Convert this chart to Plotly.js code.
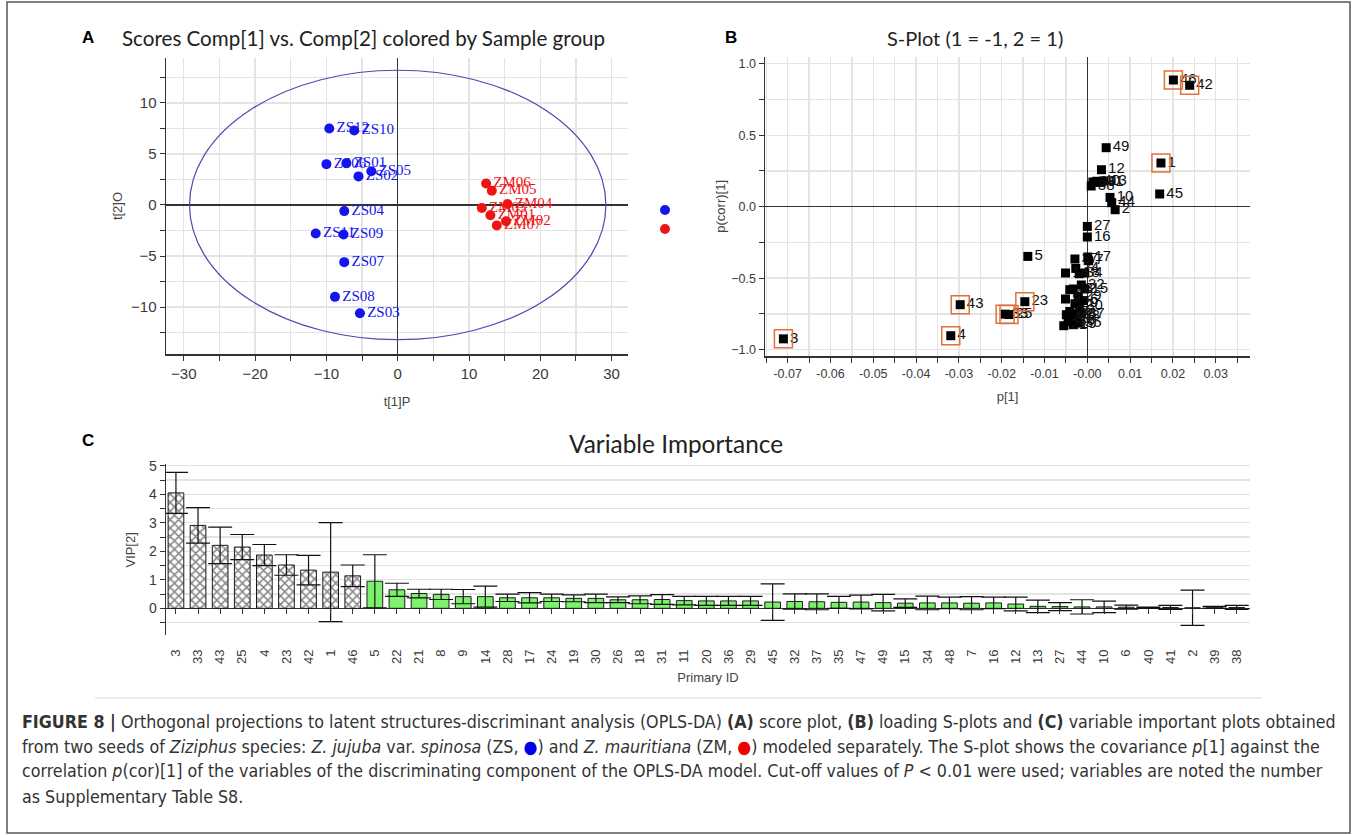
<!DOCTYPE html>
<html>
<head>
<meta charset="utf-8">
<script src="https://cdn.plot.ly/plotly-3.0.1.min.js"></script>
<style>
  html, body { margin: 0; padding: 0; background: #fff; }
  #fig { width: 1357px; height: 835px; }
</style>
</head>
<body>
<div id="fig"></div>
<script>
// ---------- Panel A: OPLS-DA scores, t[1]P vs t[2]O ----------
const zsIds = ['ZS01', 'ZS02', 'ZS03', 'ZS04', 'ZS05', 'ZS06', 'ZS07', 'ZS08', 'ZS09', 'ZS10', 'ZS11', 'ZS12'];
const zsT1P = [-7.2, -5.5, -5.3, -7.5, -3.7, -10.0, -7.5, -8.8, -7.6, -6.1, -11.5, -9.6];
const zsT2O = [4.1, 2.8, -10.6, -0.6, 3.3, 4.0, -5.6, -9.0, -2.9, 7.3, -2.8, 7.5];

const zmIds = ['ZM01', 'ZM02', 'ZM03', 'ZM04', 'ZM05', 'ZM06', 'ZM07'];
const zmT1P = [13.0, 15.2, 11.8, 15.4, 13.2, 12.4, 13.9];
const zmT2O = [-1.0, -1.6, -0.3, 0.1, 1.4, 2.1, -2.0];

// Hotelling's T2 ellipse semi-axes
const ellipseT1 = 29.2;
const ellipseT2 = 13.2;

// ---------- Panel B: S-plot, p[1] vs p(corr)[1] ----------
const sVarIds = [1, 2, 3, 4, 5, 6, 7, 8, 9, 10, 11, 12, 13, 14, 15, 16, 17, 18, 19, 20, 21, 22, 23, 24, 25,
                 26, 27, 28, 29, 30, 31, 32, 33, 34, 35, 36, 37, 38, 39, 40, 41, 42, 43, 44, 45, 46, 47, 48, 49];
const sP1 = [0.0172, 0.0065, -0.0710, -0.0319, -0.0139, -0.0009, 0.0003, -0.0006, -0.0051, 0.0053,
             -0.0049, 0.0033, 0.0038, -0.0051, -0.0006, 0.0000, 0.0001, -0.0033, -0.0033, -0.0029,
             -0.0055, -0.0033, -0.0146, -0.0027, -0.0183, -0.0041, 0.0000, -0.0041, -0.0021, -0.0018,
             -0.0045, -0.0014, -0.0192, -0.0019, -0.0021, -0.0037, -0.0029, 0.0009, 0.0013, 0.0022,
             0.0030, 0.0239, -0.0297, 0.0057, 0.0169, 0.0201, -0.0014, -0.0025, 0.0044];
const sPcorr = [0.306, -0.021, -0.925, -0.903, -0.348, -0.657, -0.378, -0.464, -0.646, 0.065,
                -0.756, 0.259, 0.180, -0.464, -0.576, -0.212, -0.352, -0.750, -0.826, -0.679,
                -0.833, -0.576, -0.665, -0.432, -0.755, -0.733, -0.138, -0.581, -0.628, -0.698,
                -0.791, -0.548, -0.752, -0.469, -0.815, -0.803, -0.366, 0.145, 0.173, 0.178,
                0.170, 0.850, -0.686, 0.028, 0.089, 0.887, -0.750, -0.768, 0.413];
const sPlotXTicks = [-0.07, -0.06, -0.05, -0.04, -0.03, -0.02, -0.01, 0, 0.01, 0.02, 0.03];
const sPlotXTickText = ['-0.07', '-0.06', '-0.05', '-0.04', '-0.03', '-0.02', '-0.01', '-0.00', '0.01', '0.02', '0.03'];

// variables passing the P < 0.01 cut-off (boxed in the S-plot, hatched in the VIP plot)
const significantIds = [3, 33, 43, 25, 4, 23, 42, 1, 46];

// ---------- Panel C: variable importance (VIP) ----------
const vipIds = [3, 33, 43, 25, 4, 23, 42, 1, 46, 5, 22, 21, 8, 9, 14, 28, 17, 24, 19, 30, 26, 18, 31, 11, 20,
                36, 29, 45, 32, 37, 35, 47, 49, 15, 34, 48, 7, 16, 12, 13, 27, 44, 10, 6, 40, 41, 2, 39, 38];
const vipValues = [4.05, 2.91, 2.21, 2.15, 1.87, 1.52, 1.34, 1.27, 1.14, 0.95, 0.65, 0.52, 0.49, 0.41, 0.41,
                   0.37, 0.37, 0.37, 0.35, 0.35, 0.30, 0.30, 0.31, 0.27, 0.26, 0.26, 0.26, 0.22, 0.24, 0.23,
                   0.21, 0.22, 0.20, 0.18, 0.19, 0.19, 0.18, 0.19, 0.15, 0.07, 0.06, 0.05, 0.05, 0.04, 0.02,
                   0.03, 0.02, 0.04, 0.03];
const vipErr = [0.72, 0.62, 0.64, 0.44, 0.37, 0.36, 0.52, 1.74, 0.38, 0.93, 0.23, 0.15, 0.18, 0.25, 0.37,
                0.13, 0.18, 0.13, 0.12, 0.15, 0.10, 0.14, 0.17, 0.15, 0.16, 0.16, 0.16, 0.64, 0.27, 0.28,
                0.21, 0.24, 0.29, 0.15, 0.24, 0.20, 0.23, 0.20, 0.24, 0.22, 0.14, 0.25, 0.20, 0.07, 0.02,
                0.07, 0.62, 0.03, 0.07];

// ---------- page geometry helpers (pixel -> paper fraction) ----------
const W = 1357, H = 835;
const fx = p => p / W;
const fy = p => 1 - p / H;

const SANS = 'Liberation Sans, Arial, sans-serif';
const SERIF = 'Liberation Serif, Times New Roman, serif';
const TITLE = 'Lato, Open Sans, sans-serif';
const CAPTION = 'DejaVu Sans Condensed, Liberation Sans, sans-serif';
const GRID = '#e4e4e4';
const AXIS = '#333';
const BLUE = '#1414ee';
const RED = '#ee1414';
const GREEN = '#7cf26c';

// ---------- traces ----------
const traceZS = {
  type: 'scatter', mode: 'markers+text', name: '',
  x: zsT1P, y: zsT2O, text: zsIds, textposition: 'middle right',
  marker: { color: BLUE, size: 10 },
  textfont: { family: SERIF, size: 15, color: BLUE },
  xaxis: 'x', yaxis: 'y', cliponaxis: false
};
const traceZM = {
  type: 'scatter', mode: 'markers+text', name: '',
  x: zmT1P, y: zmT2O, text: zmIds, textposition: 'middle right',
  marker: { color: RED, size: 10 },
  textfont: { family: SERIF, size: 15, color: RED },
  xaxis: 'x', yaxis: 'y', cliponaxis: false
};

const traceS = {
  type: 'scatter', mode: 'markers+text', showlegend: false,
  x: sP1, y: sPcorr, text: sVarIds.map(String), textposition: 'middle right',
  marker: { color: '#000', size: 9, symbol: 'square' },
  textfont: { family: SANS, size: 15, color: '#111' },
  xaxis: 'x2', yaxis: 'y2', cliponaxis: false
};
const sigIdx = sVarIds.map((id, i) => significantIds.includes(id) ? i : -1).filter(i => i >= 0);
const traceSig = {
  type: 'scatter', mode: 'markers', showlegend: false, hoverinfo: 'skip',
  x: sigIdx.map(i => sP1[i]), y: sigIdx.map(i => sPcorr[i]),
  marker: { symbol: 'square-open', size: 18, color: '#e0703c', line: { width: 1.5, color: '#e0703c' } },
  xaxis: 'x2', yaxis: 'y2', cliponaxis: false
};

// VIP bars: significant variables cross-hatched, the rest plain green
const sigBars = vipIds.map((id, i) => significantIds.includes(id) ? i : -1).filter(i => i >= 0);
const otherBars = vipIds.map((id, i) => significantIds.includes(id) ? -1 : i).filter(i => i >= 0);
const errBars = { type: 'data', visible: true, color: '#111', thickness: 1.2, width: 12 };

const traceVIPsig = {
  type: 'bar', showlegend: false, width: 0.71,
  x: sigBars.map(i => String(vipIds[i])), y: sigBars.map(i => vipValues[i]),
  marker: {
    color: '#ffffff', line: { color: '#1a1a1a', width: 1 },
    pattern: { shape: 'x', fgcolor: '#111', bgcolor: '#ffffff', size: 6, solidity: 0.45, fillmode: 'overlay' }
  },
  error_y: Object.assign({ array: sigBars.map(i => vipErr[i]) }, errBars),
  xaxis: 'x3', yaxis: 'y3'
};
const traceVIPother = {
  type: 'bar', showlegend: false, width: 0.71,
  x: otherBars.map(i => String(vipIds[i])), y: otherBars.map(i => vipValues[i]),
  marker: { color: GREEN, line: { color: '#1a1a1a', width: 1 } },
  error_y: Object.assign({ array: otherBars.map(i => vipErr[i]) }, errBars),
  xaxis: 'x3', yaxis: 'y3'
};

// ---------- layout ----------
const tickFontA = { family: SANS, size: 15, color: '#3a3a3a' };
const tickFontB = { family: SANS, size: 12.5, color: '#3a3a3a' };
const titleFont = { family: SANS, size: 13, color: '#444' };

const cRange = [-0.95, 5.05];
const cDomain = [fy(635.4), fy(464.4)];
const cZeroPos = cDomain[0] + (0 - cRange[0]) / (cRange[1] - cRange[0]) * (cDomain[1] - cDomain[0]);

const baseAxis = {
  showline: true, linecolor: AXIS, linewidth: 1.5,
  ticks: 'outside', ticklen: 5, tickcolor: AXIS, tickwidth: 1,
  showgrid: true, gridcolor: GRID, gridwidth: 1.3,
  zeroline: true, zerolinecolor: AXIS, zerolinewidth: 1.5,
  fixedrange: true
};

function note(text, x, y, font, xanchor) {
  return { text, x: fx(x), y: fy(y), xref: 'paper', yref: 'paper', showarrow: false,
           xanchor: xanchor || 'center', yanchor: 'middle', font };
}
const captionFont = { family: CAPTION, size: 17.7, color: '#333' };
const letterFont = { family: SANS, size: 17, color: '#000' };

const layout = {
  width: W, height: H,
  margin: { l: 0, r: 0, t: 0, b: 0 },
  paper_bgcolor: '#fff', plot_bgcolor: 'rgba(0,0,0,0)',
  barmode: 'overlay',
  showlegend: true,
  legend: {
    x: fx(645), y: fy(195.5), xanchor: 'left', yanchor: 'top',
    font: { size: 8, family: SANS }, bgcolor: 'rgba(0,0,0,0)', itemwidth: 30,
    tracegroupgap: 0, borderwidth: 0
  },

  // Panel A
  xaxis: Object.assign({}, baseAxis, {
    domain: [fx(166), fx(628)], range: [-32.5, 32.3], anchor: 'y',
    tick0: 0, dtick: 10, tickfont: tickFontA,
    minor: { dtick: 5, showgrid: true, gridcolor: GRID, gridwidth: 1.3, ticks: 'outside', ticklen: 5, tickcolor: AXIS },
    title: { text: 't[1]P', font: titleFont, standoff: 16 }
  }),
  yaxis: Object.assign({}, baseAxis, {
    domain: [fy(354), fy(58)], range: [-14.6, 14.4], anchor: 'x',
    tick0: 0, dtick: 5, tickfont: tickFontA,
    minor: { dtick: 2.5, showgrid: true, gridcolor: GRID, gridwidth: 1.3, ticks: 'outside', ticklen: 5, tickcolor: AXIS },
    title: { text: 't[2]O', font: titleFont, standoff: 5 }
  }),

  // Panel B
  xaxis2: Object.assign({}, baseAxis, {
    domain: [fx(765), fx(1250)], range: [-0.0753, 0.038], anchor: 'y2',
    tickvals: sPlotXTicks, ticktext: sPlotXTickText, tickfont: tickFontB,
    minor: { dtick: 0.005, tick0: 0, showgrid: true, gridcolor: GRID, gridwidth: 1.3, ticks: 'outside', ticklen: 5, tickcolor: AXIS },
    title: { text: 'p[1]', font: titleFont, standoff: 12 }
  }),
  yaxis2: Object.assign({}, baseAxis, {
    domain: [fy(356), fy(56.7)], range: [-1.045, 1.05], anchor: 'x2',
    tick0: 0, dtick: 0.5, tickformat: '.1f', tickfont: tickFontB,
    minor: { dtick: 0.25, showgrid: true, gridcolor: GRID, gridwidth: 1.3, ticks: 'outside', ticklen: 5, tickcolor: AXIS },
    title: { text: 'p(corr)[1]', font: titleFont, standoff: 3 }
  }),

  // Panel C
  xaxis3: {
    domain: [fx(166), fx(1250)], range: [-0.45, 48.6], type: 'category',
    categoryorder: 'array', categoryarray: vipIds.map(String),
    anchor: 'free', position: cZeroPos,
    showline: false, showgrid: false, zeroline: false,
    ticks: 'outside', ticklen: 5, tickcolor: AXIS, tickangle: -90,
    ticklabelstandoff: 30,
    tickfont: { family: SANS, size: 13, color: '#3a3a3a' },
    title: { text: 'Primary ID', font: titleFont, standoff: 9 },
    fixedrange: true
  },
  yaxis3: Object.assign({}, baseAxis, {
    domain: cDomain, range: cRange, anchor: 'x3',
    tick0: 0, dtick: 1, tickfont: { family: SANS, size: 14, color: '#3a3a3a' },
    minor: { dtick: 0.5, showgrid: true, gridcolor: GRID, gridwidth: 1.3, ticks: 'outside', ticklen: 5, tickcolor: AXIS },
    title: { text: 'VIP[2]', font: titleFont, standoff: 10 }
  }),

  shapes: [
    // Hotelling's T2 ellipse
    { type: 'circle', xref: 'x', yref: 'y', x0: -ellipseT1, x1: ellipseT1, y0: -ellipseT2, y1: ellipseT2,
      line: { color: '#4a4ab4', width: 1.2 }, layer: 'above' },
    // figure frame
    { type: 'rect', xref: 'paper', yref: 'paper', x0: fx(7), x1: fx(1350), y0: fy(833), y1: fy(2),
      line: { color: '#555', width: 1.5 } },
    // rule under the VIP panel
    { type: 'line', xref: 'paper', yref: 'paper', x0: fx(95), x1: fx(1262), y0: fy(698), y1: fy(698),
      line: { color: '#e6e6e6', width: 1.5 } }
  ],

  annotations: [
    note('<b>A</b>', 88, 38, letterFont),
    note('Scores Comp[1] vs. Comp[2] colored by Sample group', 120, 38,
         { family: TITLE, size: 20.6, color: '#222' }, 'left'),
    note('<b>B</b>', 731, 38, letterFont),
    note('S-Plot (1 = -1, 2 = 1)', 975, 38, { family: TITLE, size: 20, color: '#222' }),
    note('<b>C</b>', 88, 440, letterFont),
    note('Variable Importance', 676, 443, { family: TITLE, size: 24.4, color: '#222' }),

    // caption
    note('<b>FIGURE 8 |</b> Orthogonal projections to latent structures-discriminant analysis (OPLS-DA) <b>(A)</b> score plot, <b>(B)</b> loading S-plots and <b>(C)</b> variable important plots obtained',
         20, 721.5, captionFont, 'left'),
    note('from two seeds of <i>Ziziphus</i> species: <i>Z. jujuba</i> var. <i>spinosa</i> (ZS, <span style="color:#0000ee">●</span>) and <i>Z. mauritiana</i> (ZM, <span style="color:#ee0000">●</span>) modeled separately. The S-plot shows the covariance <i>p</i>[1] against the',
         20, 746.5, captionFont, 'left'),
    note('correlation <i>p</i>(cor)[1] of the variables of the discriminating component of the OPLS-DA model. Cut-off values of <i>P</i> &lt; 0.01 were used; variables are noted the number',
         20, 771, captionFont, 'left'),
    note('as Supplementary Table S8.', 20, 796.5, captionFont, 'left')
  ]
};

Plotly.newPlot('fig', [traceZS, traceZM, traceS, traceSig, traceVIPsig, traceVIPother], layout,
  { displayModeBar: false, staticPlot: true });
</script>
</body>
</html>
